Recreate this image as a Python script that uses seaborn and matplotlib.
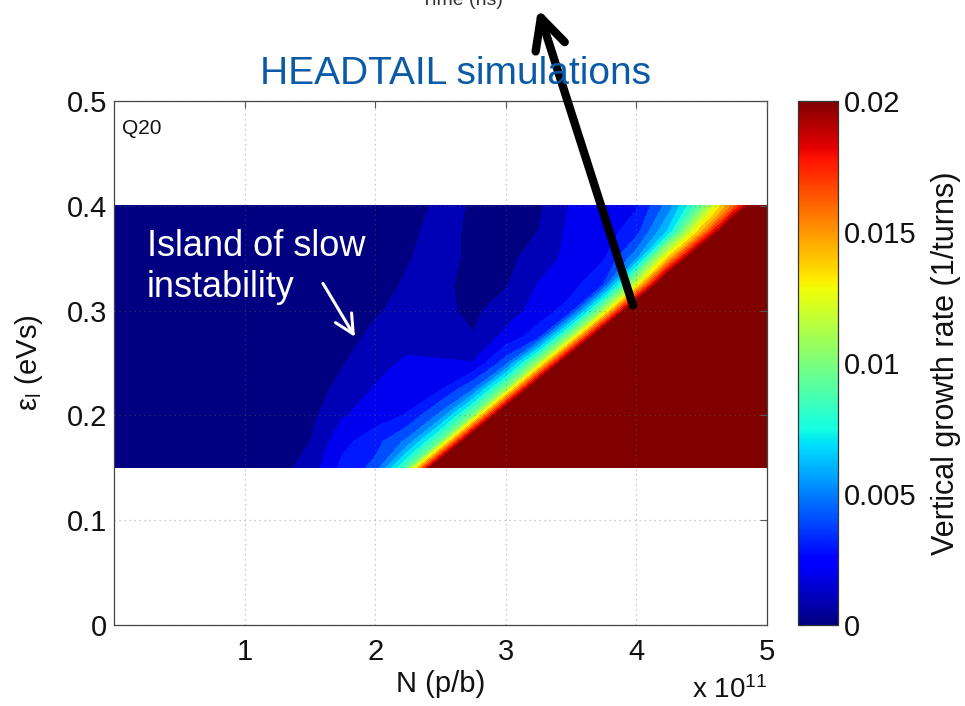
import numpy as np
import matplotlib
matplotlib.use("Agg")
import matplotlib.pyplot as plt
import matplotlib.colors as mcolors
import matplotlib.cm as mcm
import seaborn as sns

# Scan grid: bunch intensity (x 1e11 p/b) and longitudinal emittance (eVs)
intensity = [0.0, 0.25, 0.5, 0.75, 1.0, 1.25, 1.5, 1.75, 2.0, 2.25, 2.5,
             2.75, 3.0, 3.25, 3.5, 3.75, 4.0, 4.25, 4.5, 4.75, 5.0]
emittance = [0.15, 0.175, 0.2, 0.225, 0.25, 0.275, 0.3, 0.325, 0.35, 0.375, 0.4]

# Vertical growth rate in units of 1e-3 per turn, one list per emittance row
rate_e150 = [0.2, 0.2, 0.3, 0.3, 0.4, 0.6, 1.4, 3.3, 4.3, 9.7, 25, 30, 30, 30, 30, 30, 30, 30, 30, 30, 30]
rate_e175 = [0.2, 0.2, 0.3, 0.3, 0.4, 0.6, 1.0, 2.7, 3.6, 5.3, 10.1, 25, 30, 30, 30, 30, 30, 30, 30, 30, 30]
rate_e200 = [0.2, 0.3, 0.3, 0.4, 0.4, 0.5, 0.7, 1.9, 2.5, 3.1, 5.3, 10.5, 25, 30, 30, 30, 30, 30, 30, 30, 30]
rate_e225 = [0.2, 0.3, 0.3, 0.4, 0.4, 0.5, 0.7, 1.2, 2.1, 2.4, 2.9, 4.95, 10.8, 25, 30, 30, 30, 30, 30, 30, 30]
rate_e250 = [0.2, 0.3, 0.3, 0.3, 0.4, 0.5, 0.6, 0.95, 1.6, 2.2, 2.1, 2.05, 4.56, 11.3, 25, 30, 30, 30, 30, 30, 30]
rate_e275 = [0.2, 0.2, 0.3, 0.3, 0.4, 0.5, 0.5, 0.7, 1.2, 1.5, 1.5, 1.05, 2.3, 3.6, 11.3, 25, 30, 30, 30, 30, 30]
rate_e300 = [0.2, 0.2, 0.3, 0.3, 0.3, 0.4, 0.5, 0.6, 0.9, 1.3, 1.2, 0.8, 1.5, 2.4, 3.5, 11.5, 25, 30, 30, 30, 30]
rate_e325 = [0.2, 0.2, 0.2, 0.3, 0.3, 0.4, 0.4, 0.5, 0.7, 1.1, 1.2, 0.7, 0.9, 2.05, 2.6, 4.0, 12.5, 25, 30, 30, 30]
rate_e350 = [0.2, 0.2, 0.2, 0.3, 0.3, 0.3, 0.4, 0.5, 0.6, 0.95, 1.3, 0.8, 0.7, 1.5, 2.3, 2.9, 5.7, 14.5, 25, 30, 30]
rate_e375 = [0.2, 0.2, 0.2, 0.2, 0.3, 0.3, 0.4, 0.4, 0.5, 0.85, 1.25, 0.85, 0.6, 1.02, 2.3, 2.5, 3.6, 7.3, 15, 25, 30]
rate_e400 = [0.2, 0.2, 0.2, 0.2, 0.3, 0.3, 0.3, 0.4, 0.5, 0.7, 1.15, 0.95, 0.5, 0.8, 2.1, 2.4, 2.9, 5.5, 10, 16.5, 25]

x_ticks = [1, 2, 3, 4, 5]
x_ticklabels = ["1", "2", "3", "4", "5"]
y_ticks = [0, 0.1, 0.2, 0.3, 0.4, 0.5]
y_ticklabels = ["0", "0.1", "0.2", "0.3", "0.4", "0.5"]
cb_ticks = [0, 0.005, 0.01, 0.015, 0.02]
cb_ticklabels = ["0", "0.005", "0.01", "0.015", "0.02"]

sns.set_theme(style="white")
plt.rcParams["font.family"] = ["Liberation Sans", "DejaVu Sans"]
plt.rcParams["mathtext.fontset"] = "custom"
plt.rcParams["mathtext.rm"] = "Liberation Sans"
plt.rcParams["mathtext.it"] = "Liberation Sans:italic"

growth = np.array([rate_e150, rate_e175, rate_e200, rate_e225, rate_e250, rate_e275,
                   rate_e300, rate_e325, rate_e350, rate_e375, rate_e400]) * 1e-3

fig = plt.figure(figsize=(9.65, 7.06), dpi=100)
ax = fig.add_axes([0.1181, 0.1147, 0.6767, 0.7422])
cax = fig.add_axes([0.8269, 0.1147, 0.0415, 0.7422])

# 0.001-wide bands from 0 to 0.02, everything above in the darkest red
levels = list(np.linspace(0, 0.02, 21)) + [1.0]
band_colors = plt.get_cmap("jet")(np.linspace(0, 1, 21))
ax.contourf(intensity, emittance, growth, levels=levels, colors=band_colors, zorder=1)

ax.set_xlim(0, 5)
ax.set_ylim(0, 0.5)
ax.set_xticks(x_ticks)
ax.set_xticklabels(x_ticklabels)
ax.set_yticks(y_ticks)
ax.set_yticklabels(y_ticklabels)
ax.tick_params(axis="both", direction="in", length=5, width=0.8, color="#555555",
               top=True, right=True, labelsize=21, labelcolor="#111111")
ax.tick_params(axis="x", pad=9)
ax.tick_params(axis="y", pad=5)
for s in ax.spines.values():
    s.set_color("#444444")
    s.set_linewidth(0.9)

ax.set_axisbelow(False)
ax.grid(True, linestyle=(0, (1, 3)), color="#666666", alpha=0.45, linewidth=0.9)

ax.text(0.5, -0.128, "N (p/b)", transform=ax.transAxes, ha="center", va="baseline",
        fontsize=21, color="#111111")
ax.text(1.0, -0.1395, r"x 10$^{11}$", transform=ax.transAxes, ha="right", va="baseline",
        fontsize=20, color="#111111")
ax.text(-0.106, 0.5, r"$\mathrm{\epsilon_l}$ (eVs)", transform=ax.transAxes, ha="right",
        va="center", rotation=90, fontsize=21, color="#111111")

ax.text(0.012, 0.965, "Q20", transform=ax.transAxes, ha="left", va="top",
        fontsize=15, color="#111111")
ax.text(0.050, 0.704, "Island of slow", transform=ax.transAxes, ha="left",
        va="baseline", fontsize=26, color="white")
ax.text(0.050, 0.626, "instability", transform=ax.transAxes, ha="left",
        va="baseline", fontsize=26, color="white")

ax.annotate("", xy=(1.845, 0.275), xytext=(1.60, 0.326),
            arrowprops=dict(arrowstyle="->,head_length=0.9,head_width=0.45", lw=2.2,
                            color="white", shrinkA=0, shrinkB=0, mutation_scale=15),
            zorder=5)
ax.annotate("", xy=(3.247, 0.588), xytext=(3.974, 0.305),
            arrowprops=dict(arrowstyle="->,head_length=1.0,head_width=0.5", lw=6,
                            color="black", shrinkA=0, shrinkB=0, mutation_scale=22,
                            capstyle="round", joinstyle="round"),
            annotation_clip=False, zorder=6)

# colour scale
sm = mcm.ScalarMappable(norm=mcolors.Normalize(0, 0.02), cmap="jet")
cb = fig.colorbar(sm, cax=cax)
cb.set_ticks(cb_ticks)
cb.set_ticklabels(cb_ticklabels)
cb.outline.set_edgecolor("#333333")
cb.outline.set_linewidth(0.9)
cax.tick_params(direction="in", length=4, width=0.8, color="#555555", left=True,
                right=True, labelsize=21, pad=4, labelcolor="#111111")
cax.text(3.7, 0.5, "Vertical growth rate (1/turns)", transform=cax.transAxes,
         rotation=90, ha="center", va="center", fontsize=22, color="#111111")

fig.text(456 / 965, 1 - 84 / 706, "HEADTAIL simulations", ha="center", va="baseline",
         fontsize=28, color="#0B5AA8")
fig.text(462 / 965, 1 - 5 / 706, "Time (ns)", ha="center", va="baseline",
         fontsize=14, color="#333333")

fig.savefig("out.png", dpi=100)
